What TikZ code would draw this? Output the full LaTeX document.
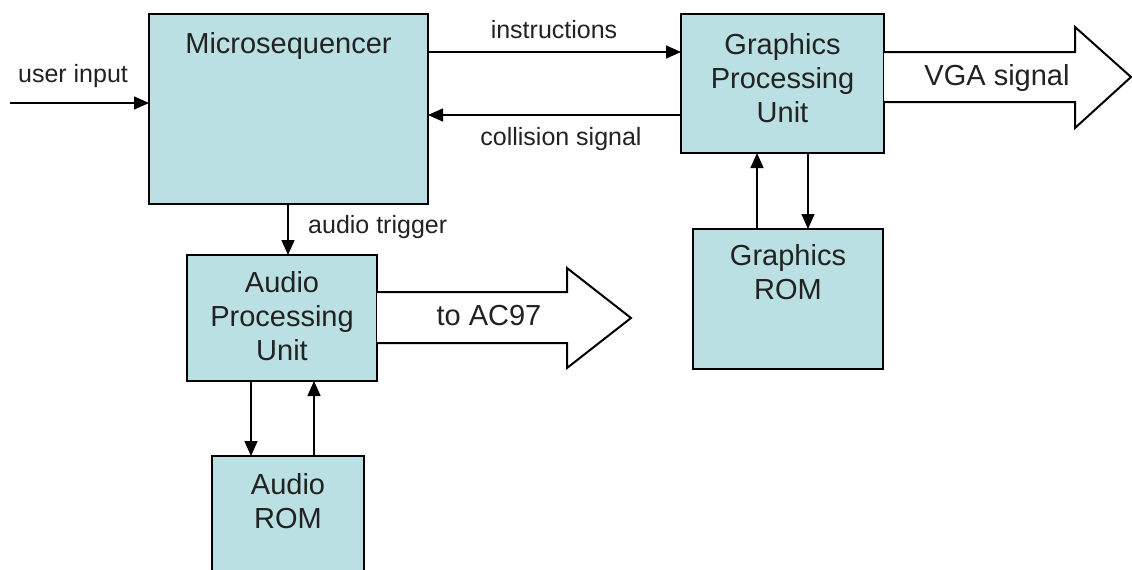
\documentclass[tikz,border=0pt]{standalone}
\usepackage{fontspec}
\setmainfont{Liberation Sans}
\usetikzlibrary{arrows.meta,positioning,calc}
\definecolor{boxfill}{RGB}{186,224,228}
\definecolor{txtgray}{RGB}{34,34,34}
\tikzset{
	unitbox/.style={draw=black, fill=boxfill, line width=2pt, anchor=north west, inner sep=0pt, outer sep=0pt},
	unittext/.style={anchor=north, inner sep=0pt, align=center, text=txtgray, font=\fontsize{29}{34}\selectfont},
	sig/.style={line width=1.5pt, -{Triangle[length=15pt,width=13pt]}},
	siglabel/.style={inner sep=0pt, text=txtgray, font=\fontsize{25}{30}\selectfont},
	fatarrow/.style={draw=black, line width=2pt, line join=miter, fill=white},
}

\begin{document}
\begin{tikzpicture}[x=1pt, y=-1pt]
		%%%%% START %%%%%
		\useasboundingbox (0, 0) rectangle (1132, 570);
		
		% blocks
		\node[unitbox, minimum width=279pt, minimum height=190pt] (mseq) at (149, 14) {};
		\node[unitbox, minimum width=203pt, minimum height=139pt] (gpu) at (681, 14) {};
		\node[unitbox, minimum width=190pt, minimum height=140pt] (grom) at (693, 229) {};
		\node[unitbox, minimum width=190pt, minimum height=126pt] (apu) at (187, 255) {};
		\node[unitbox, minimum width=152pt, minimum height=130pt] (arom) at (212, 456) {};
		
		\node[unittext] (mseqtxt) at ([yshift=-18pt]mseq.north) {Microsequencer};
		\node[unittext] (gputxt) at ([yshift=-19pt]gpu.north) {Graphics\\Processing\\Unit};
		\node[unittext] (gromtxt) at ([yshift=-15pt]grom.north) {Graphics\\ROM};
		\node[unittext] (aputxt) at ([yshift=-16pt]apu.north) {Audio\\Processing\\Unit};
		\node[unittext] (aromtxt) at ([yshift=-17pt]arom.north) {Audio\\ROM};
		
		% signals
		\coordinate (uin) at (10, 103);
		\draw[sig] (uin) -- (uin -| mseq.west);
		\node[siglabel] (uinlbl) at (73, 76) {user input};
		
		\draw[sig] (mseq.east |- 0, 52) -- (gpu.west |- 0, 52);
		\node[siglabel] (instrlbl) at (554, 29.5) {instructions};
		
		\draw[sig] (gpu.west |- 0, 115) -- (mseq.east |- 0, 115);
		\node[siglabel] (colllbl) at (561, 139) {collision signal};
		
		\draw[sig] (mseq.south -| 288, 0) -- (apu.north -| 288, 0);
		\node[siglabel, anchor=west] (triglbl) at (308, 227) {audio trigger};
		
		\draw[sig] (apu.south -| 251, 0) -- (arom.north -| 251, 0);
		\draw[sig] (arom.north -| 314, 0) -- (apu.south -| 314, 0);
		
		\draw[sig] (grom.north -| 757, 0) -- (gpu.south -| 757, 0);
		\draw[sig] (gpu.south -| 808, 0) -- (grom.north -| 808, 0);
		
		% outputs
		\draw[fatarrow] (gpu.east |- 0, 52) -- (1075, 52) -- (1075, 27) -- (1131, 77)
			-- (1075, 128) -- (1075, 102) -- (gpu.east |- 0, 102);
		\node[unittext, anchor=center] (vgatxt) at (997, 78) {VGA signal};
		
		\draw[fatarrow] (apu.east |- 0, 292) -- (567, 292) -- (567, 268) -- (631, 318)
			-- (567, 368) -- (567, 343) -- (apu.east |- 0, 343);
		\node[unittext, anchor=center] (ac97txt) at (489, 316) {to AC97};
		%%%%% END %%%%%
\end{tikzpicture}
\end{document}
